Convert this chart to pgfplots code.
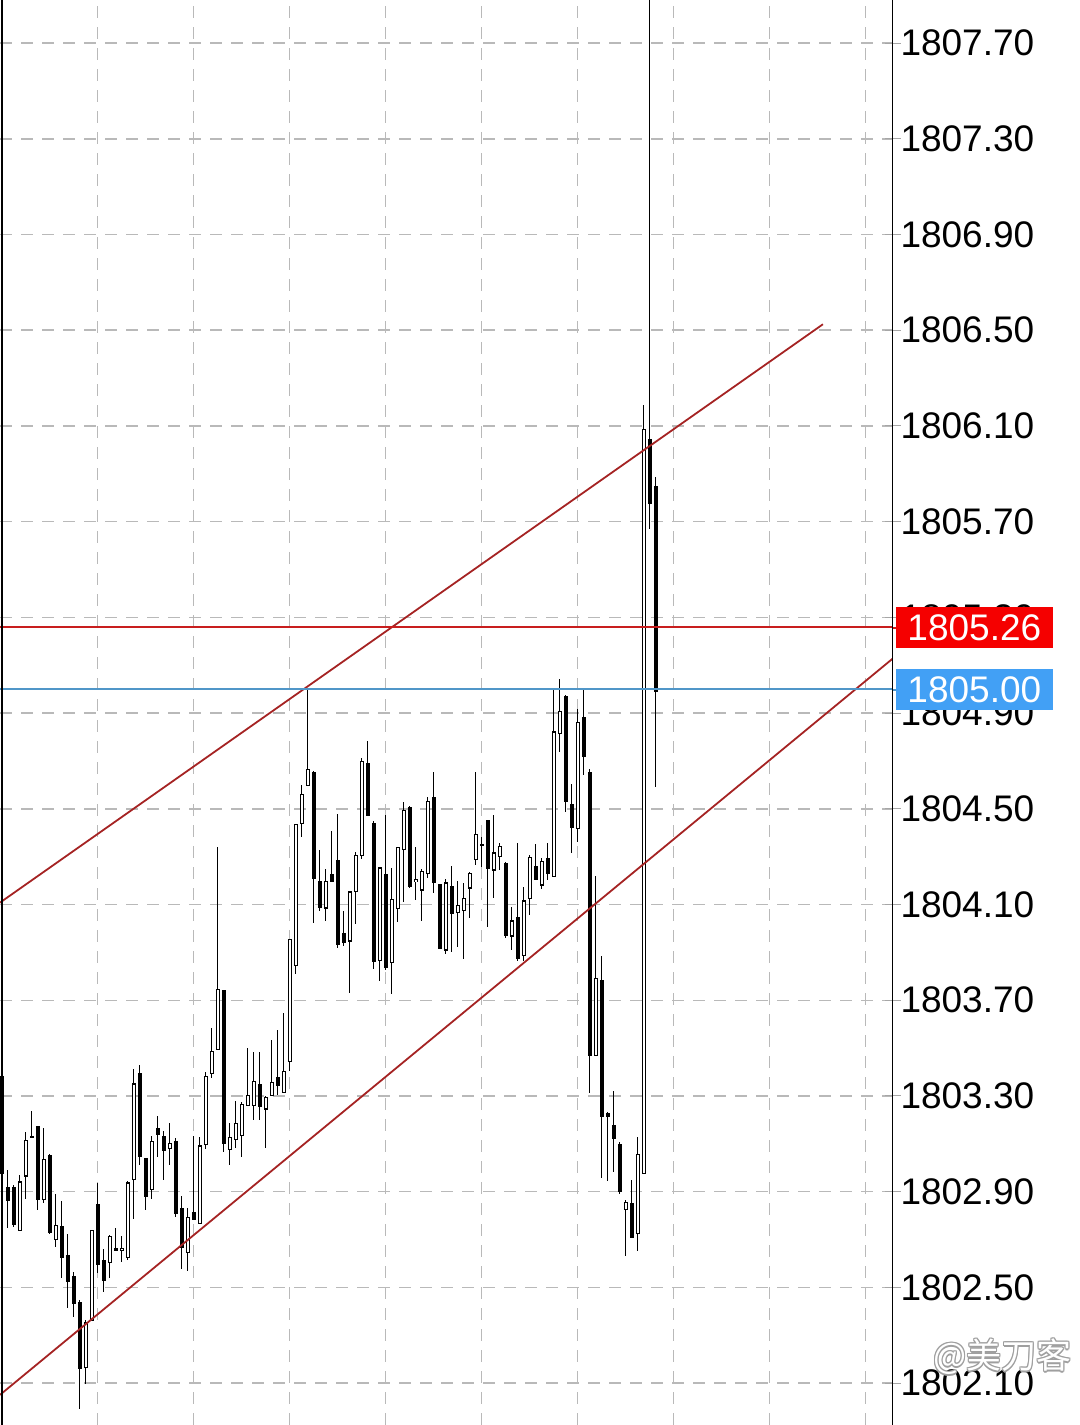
\documentclass[border=0pt]{standalone}
\usepackage{fontspec}
\setmainfont{Liberation Sans}
\newfontfamily\cjk{Noto Sans CJK SC}
\usepackage{pgfplots}
\usepackage{pgfplotstable}
\pgfplotsset{compat=1.18}
\definecolor{trend}{RGB}{165,35,35}
\definecolor{askline}{RGB}{200,30,30}
\definecolor{bidline}{RGB}{80,150,200}
\definecolor{askbox}{RGB}{245,0,0}
\definecolor{bidbox}{RGB}{66,160,245}
\definecolor{gridc}{RGB}{185,185,185}

\pgfplotstableread{
k o h l c
3 1802.754 1802.969 1802.750 1802.956
4 1802.977 1803.158 1802.879 1803.127
7 1802.868 1803.179 1802.868 1803.036
9 1802.718 1802.897 1802.677 1802.776
14 1802.166 1802.377 1802.110 1802.356
15 1802.366 1802.747 1802.366 1802.740
18 1802.609 1802.718 1802.539 1802.718
20 1802.668 1802.718 1802.612 1802.677
21 1802.636 1802.949 1802.618 1802.949
22 1802.956 1803.429 1802.800 1803.357
25 1802.918 1803.137 1802.872 1803.119
28 1803.085 1803.199 1803.021 1803.106
31 1802.659 1802.840 1802.573 1802.805
33 1802.775 1803.130 1802.771 1803.098
34 1803.102 1803.408 1803.088 1803.388
35 1803.395 1803.597 1803.388 1803.488
36 1803.506 1804.349 1803.506 1803.760
38 1803.077 1803.199 1803.021 1803.127
39 1803.119 1803.286 1803.088 1803.186
40 1803.147 1803.286 1803.060 1803.279
41 1803.265 1803.509 1803.265 1803.307
42 1803.265 1803.495 1803.211 1803.367
44 1803.258 1803.307 1803.091 1803.307
45 1803.314 1803.537 1803.308 1803.367
47 1803.328 1803.648 1803.318 1803.416
48 1803.446 1803.968 1803.420 1803.955
49 1803.857 1804.446 1803.829 1804.446
50 1804.456 1804.607 1804.388 1804.579
51 1804.597 1804.997 1804.597 1804.665
54 1804.095 1804.258 1804.042 1804.205
58 1803.945 1804.157 1803.740 1804.150
59 1804.157 1804.321 1804.021 1804.307
60 1804.314 1804.729 1804.307 1804.707
63 1803.869 1804.269 1803.792 1804.255
65 1803.857 1804.258 1803.729 1804.119
66 1804.095 1804.349 1804.042 1804.349
67 1804.335 1804.537 1804.119 1804.498
69 1804.195 1804.349 1804.129 1804.205
70 1804.167 1804.258 1804.042 1804.246
71 1804.234 1804.558 1804.220 1804.537
74 1803.917 1804.205 1803.889 1804.198
76 1804.068 1804.205 1803.927 1804.098
77 1804.068 1804.198 1803.879 1804.119
78 1804.175 1804.248 1804.056 1804.237
79 1804.297 1804.659 1804.269 1804.404
82 1804.246 1804.486 1804.140 1804.318
83 1804.304 1804.370 1804.258 1804.346
85 1803.976 1804.098 1803.921 1804.039
87 1803.896 1804.178 1803.869 1804.126
88 1804.137 1804.321 1804.070 1804.307
90 1804.189 1804.307 1804.179 1804.286
92 1804.226 1805.020 1804.226 1804.829
93 1804.816 1805.045 1804.739 1804.909
96 1804.425 1804.930 1804.373 1804.867
99 1803.485 1804.226 1803.485 1803.808
104 1802.837 1802.876 1802.642 1802.868
106 1802.726 1803.137 1802.660 1803.056
107 1802.983 1806.195 1802.983 1806.092
}\bull

\pgfplotstableread{
k o h l c
0 1803.388 1803.395 1802.921 1802.983
1 1802.921 1802.998 1802.758 1802.868
2 1802.920 1802.937 1802.758 1802.765
5 1803.136 1803.237 1803.123 1803.132
6 1803.179 1803.179 1802.827 1802.875
8 1803.049 1803.057 1802.726 1802.726
10 1802.768 1802.869 1802.549 1802.636
11 1802.647 1802.728 1802.419 1802.536
12 1802.559 1802.576 1802.391 1802.444
13 1802.458 1802.458 1802.002 1802.183
16 1802.847 1802.949 1802.573 1802.594
17 1802.617 1802.658 1802.477 1802.536
19 1802.668 1802.756 1802.659 1802.659
23 1803.399 1803.436 1803.021 1803.054
24 1803.049 1803.054 1802.841 1802.888
26 1803.172 1803.227 1803.053 1803.147
27 1803.136 1803.158 1802.952 1803.077
29 1803.127 1803.137 1802.809 1802.826
30 1802.840 1802.896 1802.593 1802.677
32 1802.819 1803.137 1802.789 1802.789
37 1803.746 1803.746 1803.081 1803.105
43 1803.357 1803.495 1803.211 1803.265
46 1803.378 1803.579 1803.304 1803.346
52 1804.658 1804.665 1804.028 1804.216
53 1804.196 1804.328 1804.070 1804.087
55 1804.234 1804.419 1804.205 1804.205
56 1804.286 1804.488 1803.928 1803.935
57 1803.975 1804.077 1803.928 1803.935
61 1804.700 1804.788 1804.484 1804.484
62 1804.449 1804.449 1803.829 1803.875
64 1804.237 1804.488 1803.840 1803.847
68 1804.506 1804.516 1804.175 1804.175
72 1804.548 1804.666 1804.158 1804.196
73 1804.189 1804.189 1803.917 1803.924
75 1804.189 1804.258 1803.899 1804.074
80 1804.358 1804.386 1804.258 1804.355
81 1804.456 1804.456 1804.007 1804.255
84 1804.286 1804.286 1803.968 1803.986
86 1804.046 1804.370 1803.875 1803.875
89 1804.269 1804.349 1804.206 1804.214
91 1804.297 1804.363 1804.206 1804.234
94 1804.969 1804.990 1804.502 1804.534
95 1804.530 1804.607 1804.321 1804.435
97 1804.888 1805.017 1804.659 1804.725
98 1804.658 1804.665 1803.311 1803.478
100 1803.796 1803.896 1802.969 1803.227
101 1803.237 1803.237 1802.949 1803.227
102 1803.179 1803.318 1802.979 1803.127
103 1803.098 1803.109 1802.893 1802.900
105 1802.855 1802.956 1802.716 1802.716
108 1806.044 1808.200 1805.679 1805.774
109 1805.857 1805.884 1804.590 1805.000
}\bear

\pgfplotsset{candle/.style={draw=none, mark=none, no markers,
  error bars/.cd, y dir=both, y explicit, error mark=none}}

\begin{document}
\begin{tikzpicture}
\path[use as bounding box, clip] (0,0) rectangle (540pt,712.5pt);
\begin{axis}[
  at={(0,0)}, anchor=south west,
  width=446.25pt, height=712.5pt, scale only axis,
  xmin=-0.3333, xmax=148.42,
  ymin=1801.925, ymax=1807.88,
  axis line style={draw=none},
  xtick={15.88,31.88,47.88,63.88,79.88,95.88,111.88,127.88,143.88},
  xticklabels={},
  xtick style={draw=none},
  ytick={1802.1,1802.5,1802.9,1803.3,1803.7,1804.1,1804.5,1804.9,1805.3,1805.7,1806.1,1806.5,1806.9,1807.3,1807.7},
  ytick pos=right, yticklabel pos=right,
  ytick style={draw=gray!70, line width=0.5pt},
  tick align=center, major tick length=8pt,
  scaled y ticks=false,
  yticklabel style={anchor=west, inner sep=0pt, xshift=-0.2pt, font=\fontsize{18.5}{22}\selectfont,
    /pgf/number format/.cd, fixed, fixed zerofill, precision=2, 1000 sep={}, assume math mode=true},
  xmajorgrids, ymajorgrids,
  grid style={gridc, line width=0.75pt, dash pattern=on 6pt off 4.5pt},
  clip=true,
]
% wicks
\addplot[candle, error bar style={draw=black, solid, line width=0.5pt}]
  table[x=k, y expr={(\thisrow{h}+\thisrow{l})/2}, y error expr={(\thisrow{h}-\thisrow{l})/2}] {\bull};
\addplot[candle, error bar style={draw=black, solid, line width=0.5pt}]
  table[x=k, y expr={(\thisrow{h}+\thisrow{l})/2}, y error expr={(\thisrow{h}-\thisrow{l})/2}] {\bear};
% bearish bodies
\addplot[candle, error bar style={draw=black, solid, line width=2.2pt}]
  table[x=k, y expr={(\thisrow{o}+\thisrow{c})/2}, y error expr={(\thisrow{o}-\thisrow{c})/2+0.0021}] {\bear};
% bullish bodies: outline then white fill
\addplot[candle, error bar style={draw=black, solid, line width=2.2pt}]
  table[x=k, y expr={(\thisrow{o}+\thisrow{c})/2}, y error expr={(\thisrow{c}-\thisrow{o})/2+0.0021}] {\bull};
\addplot[candle, error bar style={draw=white, solid, line width=1.0pt}]
  table[x=k, y expr={(\thisrow{o}+\thisrow{c})/2}, y error expr={max((\thisrow{c}-\thisrow{o})/2-0.0026,0)}] {\bull};
% channel lines
\addplot[trend, line width=0.9pt] coordinates {(-0.3333,1804.108) (136.83,1806.525)};
\addplot[trend, line width=0.9pt] coordinates {(-0.3333,1802.051) (148.42,1805.127)};
% ask / bid lines
\addplot[askline, line width=1pt] coordinates {(-0.3333,1805.26) (148.42,1805.26)};
\addplot[bidline, line width=1pt] coordinates {(-0.3333,1805.00) (148.42,1805.00)};
\end{axis}
\begin{scope}[shift={(0pt,712.5pt)}, x=0.5pt, y=-0.5pt]
\draw[black, line width=0.75pt] (1.8,0)--(1.8,1425);
\draw[black, line width=0.6pt] (892.5,0)--(892.5,1425);
\draw[askline, line width=1pt] (892.5,627.7)--(897,627.7);
\draw[bidline, line width=1pt] (892.5,690)--(897,690);
\node[fill=askbox, text=white, minimum width=78.35pt, minimum height=20.8pt, inner sep=0pt,
  font=\fontsize{18.5}{22}\selectfont] at (974.35,627.5) {1805.26};
\node[fill=bidbox, text=white, minimum width=78.35pt, minimum height=20.8pt, inner sep=0pt,
  font=\fontsize{18.5}{22}\selectfont] at (974.35,689.5) {1805.00};
\foreach \dx/\dy in {-1.3/0,1.3/0,0/-1.3,0/1.3,-0.9/-0.9,0.9/0.9,-0.9/0.9,0.9/-0.9}{
  \node[text=gray!75, anchor=east, inner sep=0pt, font=\cjk\fontsize{17.5}{20}\selectfont]
    at (1072+\dx,1357+\dy) {@美刀客};
}
\node[text=white, anchor=east, inner sep=0pt, font=\cjk\fontsize{17.5}{20}\selectfont]
  at (1072,1357) {@美刀客};
\end{scope}
\end{tikzpicture}
\end{document}
